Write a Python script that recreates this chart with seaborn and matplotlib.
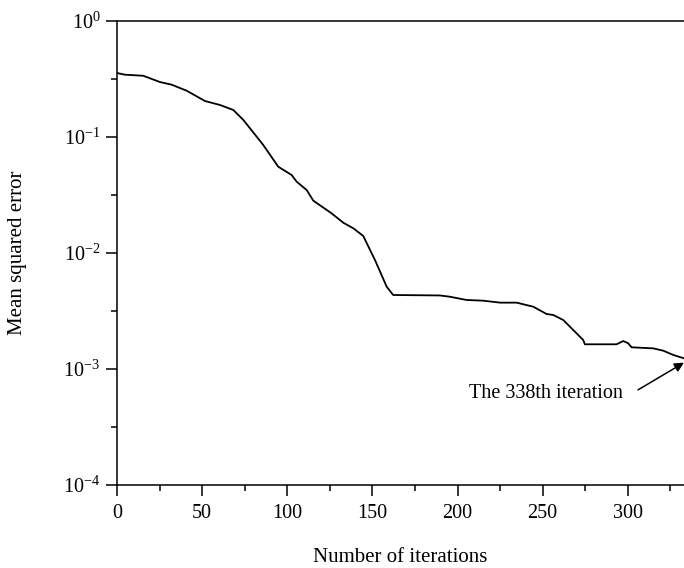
import numpy as np
import pandas as pd
import matplotlib
matplotlib.use("Agg")
import matplotlib.pyplot as plt
import matplotlib.ticker as mticker
import seaborn as sns

# Data (iteration, log10 of MSE)
iterations = [0, 0.8, 4.7, 15.4, 25.2, 32.1, 40.9, 51.7, 60.5, 68.3, 74.2, 82.0, 85.9,
              94.7, 102.6, 105.5, 111.4, 115.3, 126.1, 132.9, 138.8, 144.6, 151.5,
              158.4, 162.2, 189.7, 195.5, 205.3, 215.1, 225.0, 234.7, 244.5, 252.3,
              256.2, 262.1, 273.8, 274.8, 293.4, 297.3, 300.2, 302.2, 314.9, 320.8,
              326.7, 333.0, 338.0]
log_mse = [-0.446, -0.451, -0.463, -0.472, -0.526, -0.549, -0.601, -0.690, -0.724,
           -0.767, -0.853, -0.997, -1.069, -1.256, -1.328, -1.385, -1.457, -1.549,
           -1.659, -1.739, -1.787, -1.853, -2.060, -2.291, -2.362, -2.366, -2.377,
           -2.405, -2.411, -2.428, -2.428, -2.463, -2.526, -2.534, -2.578, -2.750,
           -2.787, -2.787, -2.759, -2.778, -2.813, -2.822, -2.842, -2.879, -2.908,
           -2.93]
mse = [10 ** v for v in log_mse]

x_ticks = [0, 50, 100, 150, 200, 250, 300]
y_ticks = [1e-4, 1e-3, 1e-2, 1e-1, 1e0]
annotation_text = "The 338th iteration"
x_label = "Number of iterations"
y_label = "Mean squared error"

sns.set_style("ticks")
plt.rcParams["font.family"] = ["Liberation Serif", "DejaVu Serif"]
plt.rcParams["mathtext.fontset"] = "stix"

df = pd.DataFrame({"iter": iterations, "mse": mse})

fig = plt.figure(figsize=(6.84, 5.68), dpi=100)
ax = fig.add_axes([117 / 684, 83 / 568, 1 - 117 / 684, (485 - 21) / 568])

sns.lineplot(data=df, x="iter", y="mse", ax=ax, color="black", linewidth=1.3)

ax.set_yscale("log")
ax.set_xlim(0, 333)
ax.set_ylim(1e-4, 1e0)

ax.xaxis.set_major_locator(mticker.FixedLocator(x_ticks))
ax.xaxis.set_minor_locator(mticker.FixedLocator([25, 75, 125, 175, 225, 275, 325]))
ax.yaxis.set_major_locator(mticker.FixedLocator(y_ticks))
ax.yaxis.set_minor_locator(mticker.FixedLocator([10 ** (k + 0.5) for k in range(-4, 0)]))
ax.yaxis.set_major_formatter(mticker.LogFormatterSciNotation())
ax.yaxis.set_minor_formatter(mticker.NullFormatter())

ax.tick_params(axis="both", which="major", length=8, width=1.1, labelsize=14.5, direction="out", color="black", labelcolor="black")
ax.tick_params(axis="both", which="minor", length=4, width=1.1, direction="out", color="black")
ax.tick_params(axis="x", pad=6)
ax.tick_params(axis="y", pad=4)

for side in ["left", "bottom", "top"]:
    ax.spines[side].set_visible(True)
    ax.spines[side].set_linewidth(1.1)
    ax.spines[side].set_color("black")
ax.spines["right"].set_visible(False)

ax.set_xlabel(x_label, fontsize=15, color="black", labelpad=18)
ax.set_ylabel(y_label, fontsize=15, color="black", labelpad=26)

ax.text(252, 10 ** -3.207, annotation_text, fontsize=14.5, ha="center", va="center", color="black")
ax.annotate("",
            xy=(333, 10 ** -2.945), xycoords="data",
            xytext=(306, 10 ** -3.18), textcoords="data",
            arrowprops=dict(arrowstyle="-|>", color="black", lw=1.1,
                            mutation_scale=14, shrinkA=0, shrinkB=0),
            annotation_clip=False)

fig.savefig("out.png", dpi=100)
